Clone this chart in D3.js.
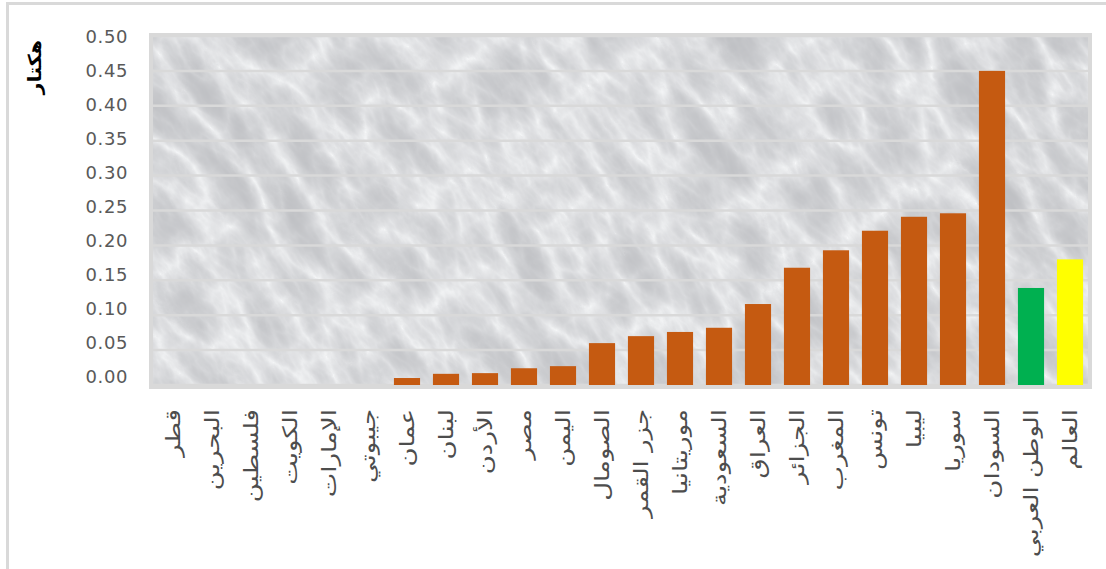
<!DOCTYPE html>
<html>
<head>
<meta charset="utf-8">
<script src="https://cdn.jsdelivr.net/npm/d3@7"></script>
<style>
  html, body { margin: 0; padding: 0; background: #ffffff; }
  svg { display: block; }
</style>
</head>
<body>
<svg id="chart" width="1106" height="569"></svg>
<script>
// Average area per capita (hectare) by country, Arab region and world
const categories = [
  "قطر", "البحرين", "فلسطين", "الكويت", "الإمارات", "جيبوتي",
  "عمان", "لبنان", "الأردن", "مصر", "اليمن", "الصومال",
  "جزر القمر", "موريتانيا", "السعودية", "العراق", "الجزائر", "المغرب",
  "تونس", "ليبيا", "سوريا", "السودان", "الوطن العربي", "العالم"
];
const values = [
  0, 0, 0, 0, 0, 0,
  0.010, 0.016, 0.017, 0.024, 0.027, 0.060,
  0.070, 0.076, 0.082, 0.116, 0.168, 0.193,
  0.221, 0.241, 0.246, 0.450, 0.139, 0.180
];
const barColors = [
  "#C55A11", "#C55A11", "#C55A11", "#C55A11", "#C55A11", "#C55A11",
  "#C55A11", "#C55A11", "#C55A11", "#C55A11", "#C55A11", "#C55A11",
  "#C55A11", "#C55A11", "#C55A11", "#C55A11", "#C55A11", "#C55A11",
  "#C55A11", "#C55A11", "#C55A11", "#C55A11", "#00B050", "#FFFF00"
];
const yTicks = [0, 0.05, 0.10, 0.15, 0.20, 0.25, 0.30, 0.35, 0.40, 0.45, 0.50];
const yTitle = "هكتار";

const svg = d3.select("#chart");

// Outer chart frame
svg.append("rect")
  .attr("x", 7.5).attr("y", 3.5)
  .attr("width", 1200).attr("height", 700)
  .attr("fill", "none")
  .attr("stroke", "#d9d9d9")
  .attr("stroke-width", 3);

const plot = { left: 151, right: 1090, top: 35, bottom: 387 };

const x = d3.scaleBand()
  .domain(categories)
  .range([153.5, 1089.5])
  .paddingInner(0.33)
  .paddingOuter(0.165);

const y = d3.scaleLinear().domain([0, 0.5]).range([385, 36]);
// tick labels sit on a slightly tighter span than the gridlines
const yLabel = d3.scaleLinear().domain([0, 0.5]).range([377, 37]);

// Marble texture for the plot area: streaky noise, tilted diagonally
const defs = svg.append("defs");
defs.append("clipPath").attr("id", "plotClip")
  .append("rect")
  .attr("x", plot.left).attr("y", plot.top)
  .attr("width", plot.right - plot.left)
  .attr("height", plot.bottom - plot.top);

const marble = defs.append("filter")
  .attr("id", "marble")
  .attr("x", 0).attr("y", 0).attr("width", 1).attr("height", 1)
  .attr("color-interpolation-filters", "sRGB");
marble.append("feTurbulence")
  .attr("type", "turbulence")
  .attr("baseFrequency", "0.024 0.011")
  .attr("numOctaves", 5)
  .attr("seed", 23)
  .attr("result", "noise");
marble.append("feColorMatrix")
  .attr("in", "noise")
  .attr("type", "matrix")
  .attr("values",
    "-0.6 0 0 0 1 " +
    "-0.6 0 0 0 1 " +
    "-0.6 0 0 0 1 " +
    "0 0 0 0 1")
  .attr("result", "light");
const ct = marble.append("feComponentTransfer").attr("in", "light");
ct.append("feFuncR").attr("type", "gamma").attr("amplitude", 0.24).attr("exponent", 3).attr("offset", 0.725);
ct.append("feFuncG").attr("type", "gamma").attr("amplitude", 0.24).attr("exponent", 3).attr("offset", 0.73);
ct.append("feFuncB").attr("type", "gamma").attr("amplitude", 0.23).attr("exponent", 3).attr("offset", 0.745);

const cx = (plot.left + plot.right) / 2, cy = (plot.top + plot.bottom) / 2;
svg.append("g")
  .attr("clip-path", "url(#plotClip)")
  .append("rect")
  .attr("x", cx - 650).attr("y", cy - 520)
  .attr("width", 1300).attr("height", 1040)
  .attr("fill", "#eceef0")
  .attr("filter", "url(#marble)")
  .attr("transform", `rotate(-35,${cx},${cy})`);

// Horizontal gridlines
svg.append("g")
  .selectAll("line")
  .data(yTicks)
  .join("line")
  .attr("x1", plot.left).attr("x2", plot.right)
  .attr("y1", d => y(d)).attr("y2", d => y(d))
  .attr("stroke", "#d9d9d9")
  .attr("stroke-width", 2.5);

// Plot area border
svg.append("rect")
  .attr("x", plot.left).attr("y", plot.top)
  .attr("width", plot.right - plot.left)
  .attr("height", plot.bottom - plot.top)
  .attr("fill", "none")
  .attr("stroke", "#d9d9d9")
  .attr("stroke-width", 4);

// Bars
svg.append("g")
  .selectAll("rect")
  .data(categories)
  .join("rect")
  .attr("x", d => x(d))
  .attr("width", x.bandwidth())
  .attr("y", (d, i) => y(values[i]))
  .attr("height", (d, i) => y(0) - y(values[i]))
  .attr("fill", (d, i) => barColors[i]);

// Y axis labels
const yAxis = d3.axisLeft(yLabel)
  .tickValues(yTicks)
  .tickFormat(d3.format(".2f"))
  .tickSize(0)
  .tickPadding(0);
const gy = svg.append("g")
  .attr("transform", "translate(128,0)")
  .call(yAxis);
gy.select(".domain").remove();
gy.selectAll("text")
  .attr("fill", "#595959")
  .attr("font-family", "'DejaVu Sans', sans-serif")
  .attr("font-size", 18)
  .attr("letter-spacing", "0.6");

// Category labels, rotated to run downward
const xAxis = d3.axisBottom(x).tickSize(0).tickPadding(0);
const gx = svg.append("g")
  .attr("transform", "translate(0,409)")
  .call(xAxis);
gx.select(".domain").remove();
gx.selectAll("text")
  .attr("transform", "rotate(-90) scale(1.3,1)")
  .attr("x", 0).attr("y", 0)
  .attr("dy", "0.35em")
  .attr("text-anchor", "end")
  .attr("fill", "#4d4d4d")
  .attr("font-family", "'DejaVu Sans', sans-serif")
  .attr("font-size", 20);

// Y axis title
svg.append("text")
  .attr("transform", "translate(35,40) rotate(-90) scale(1.15,1)")
  .attr("dy", "0.35em")
  .attr("text-anchor", "end")
  .attr("fill", "#000000")
  .attr("font-family", "'DejaVu Sans', sans-serif")
  .attr("font-weight", "bold")
  .attr("font-size", 18)
  .text(yTitle);
</script>
</body>
</html>
